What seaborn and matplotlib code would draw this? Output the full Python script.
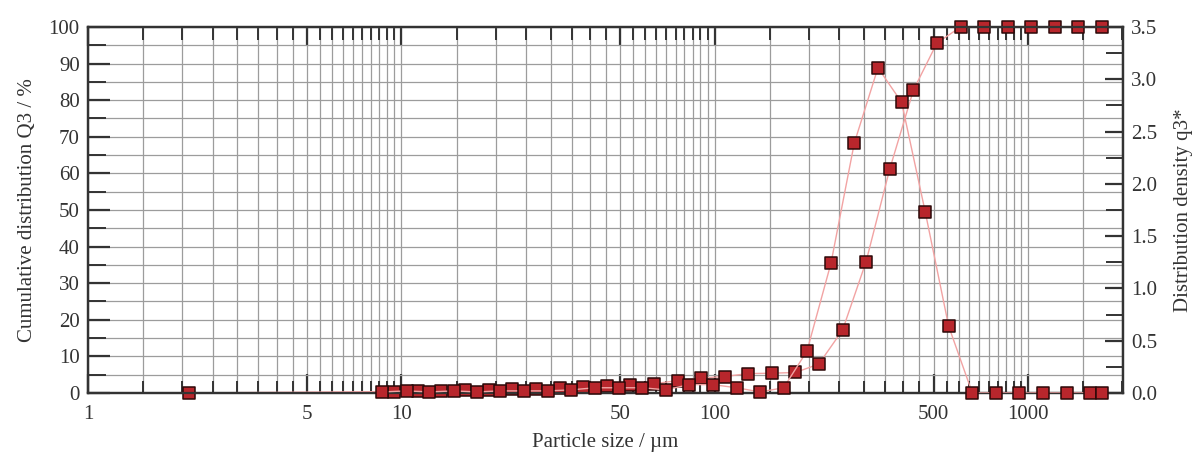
import numpy as np
import pandas as pd
import matplotlib
matplotlib.use("Agg")
import matplotlib.pyplot as plt
import matplotlib.ticker as mticker
import seaborn as sns

# ---- data ----
cum_size = [2.1, 9.5, 11.3, 13.4, 16.0, 19.0, 22.6, 26.9, 32.0, 38.0, 45.2, 53.8, 64.0,
            76.1, 90.5, 107.6, 128, 152, 181, 215, 256, 304, 362, 431, 512,
            609, 724, 861, 1024, 1218, 1448, 1722]
cum_q3 = [0.0, 0.4, 0.5, 0.6, 0.7, 0.9, 1.0, 1.1, 1.3, 1.6, 1.8, 2.1, 2.5,
          3.4, 4.1, 4.5, 5.3, 5.4, 5.6, 7.9, 17.2, 35.8, 61.2, 82.8, 95.6,
          100, 100, 100, 100, 100, 100, 100]

den_size = [8.7, 10.4, 12.3, 14.7, 17.4, 20.7, 24.7, 29.3, 34.9, 41.5, 49.4, 58.7,
            69.8, 83.0, 98.7, 117.4, 139.6, 166, 197, 235, 279, 332, 395, 470,
            558, 664, 790, 939, 1117, 1328, 1579, 1722]
den_q3 = [0.01, 0.02, 0.01, 0.02, 0.01, 0.02, 0.02, 0.02, 0.03, 0.05, 0.05, 0.05,
          0.03, 0.08, 0.08, 0.05, 0.01, 0.05, 0.40, 1.24, 2.39, 3.11, 2.78, 1.73,
          0.64, 0.0, 0.0, 0.0, 0.0, 0.0, 0.0, 0.0]

x_major = [1, 5, 10, 50, 100, 500, 1000]
x_major_labels = ["1", "5", "10", "50", "100", "500", "1000"]

# ---- style ----
sns.set_theme(style="white")
plt.rcParams["font.family"] = ["Liberation Serif", "DejaVu Serif"]

LINE = "#f2a3a3"
FACE = "#b8262c"
EDGE = "#2b0808"
GRID = "#9c9c9c"
SPINE = "#333333"
FS = 15

fig = plt.figure(figsize=(11.97, 4.55), dpi=100)
ax = fig.add_axes([0.0735, 0.1363, 0.8647, 0.8044])
ax2 = ax.twinx()

cum_df = pd.DataFrame({"size": cum_size, "Q3": cum_q3})
den_df = pd.DataFrame({"size": den_size, "q3": den_q3})

sns.lineplot(data=cum_df, x="size", y="Q3", ax=ax, color=LINE, lw=1.0,
             sort=False, zorder=3)
sns.scatterplot(data=cum_df, x="size", y="Q3", ax=ax, marker="s", s=72,
                color=FACE, edgecolor=EDGE, linewidth=1.1, zorder=4, clip_on=False)
sns.lineplot(data=den_df, x="size", y="q3", ax=ax2, color=LINE, lw=1.0,
             sort=False, zorder=3)
sns.scatterplot(data=den_df, x="size", y="q3", ax=ax2, marker="s", s=72,
                color=FACE, edgecolor=EDGE, linewidth=1.1, zorder=4, clip_on=False)

ax.set_xscale("log")
ax.set_xlim(1, 2010)
ax.set_ylim(0, 100)
ax2.set_ylim(0, 3.5)

# x ticks
minors = []
for dec in [1, 10, 100, 1000]:
    for m in np.arange(1.5, 10.0, 0.5):
        v = m * dec
        if v <= 2010 and v not in x_major:
            minors.append(v)
ax.xaxis.set_major_locator(mticker.FixedLocator(x_major))
ax.xaxis.set_major_formatter(mticker.FixedFormatter(x_major_labels))
ax.xaxis.set_minor_locator(mticker.FixedLocator(minors))
ax.xaxis.set_minor_formatter(mticker.NullFormatter())

ax.yaxis.set_major_locator(mticker.MultipleLocator(10))
ax.yaxis.set_minor_locator(mticker.MultipleLocator(5))
ax2.yaxis.set_major_locator(mticker.MultipleLocator(0.5))
ax2.yaxis.set_minor_locator(mticker.MultipleLocator(0.25))
ax2.yaxis.set_major_formatter(mticker.FormatStrFormatter("%.1f"))

ax.grid(True, which="both", axis="both", color=GRID, lw=0.9)
ax.set_axisbelow(True)

ax.tick_params(axis="x", which="major", direction="in", top=True, bottom=True,
               length=14, width=1.6, color=SPINE, labelsize=FS, pad=9)
ax.tick_params(axis="x", which="minor", direction="in", top=True, bottom=True,
               length=9, width=1.4, color=SPINE)
ax.tick_params(axis="y", which="major", direction="in", left=True, right=False,
               length=16, width=1.6, color=SPINE, labelsize=FS, pad=6)
ax.tick_params(axis="y", which="minor", direction="in", left=True, right=False,
               length=13, width=1.4, color=SPINE)
ax2.tick_params(axis="y", which="major", direction="in", right=True, left=False,
                length=13, width=1.6, color=SPINE, labelsize=FS, pad=6)
ax2.tick_params(axis="y", which="minor", direction="in", right=True, left=False,
                length=12, width=1.4, color=SPINE)
ax2.grid(False)

for a in (ax, ax2):
    for sp in a.spines.values():
        sp.set_color(SPINE)
        sp.set_linewidth(1.6)
    a.tick_params(labelcolor="#333333")

ax.set_xlabel("Particle size / \u00b5m", fontsize=FS, color="#333333", labelpad=6)
ax.set_ylabel("Cumulative distribution Q3 / %", fontsize=FS, color="#333333", labelpad=8)
ax2.set_ylabel("Distribution density q3*", fontsize=FS, color="#333333", labelpad=12)

fig.savefig("out.png", dpi=100)
